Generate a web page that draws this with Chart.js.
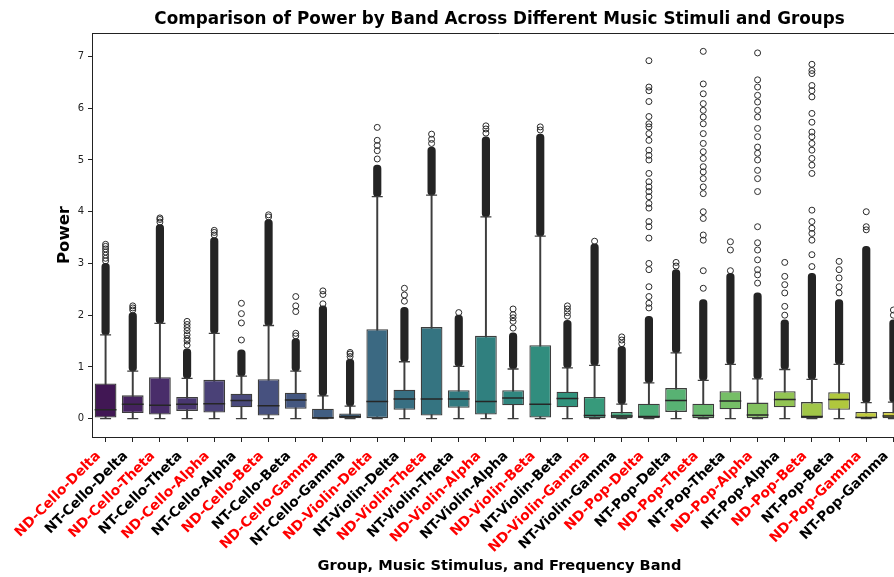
<!DOCTYPE html>
<html>
<head>
<meta charset="utf-8">
<script src="https://cdn.jsdelivr.net/npm/chart.js@4.4.1/dist/chart.umd.min.js"></script>
<style>
  html, body { margin: 0; padding: 0; overflow: hidden; background: #fff; }
  canvas { display: block; }
</style>
</head>
<body>
<canvas id="c_box" width="920" height="577"></canvas>
<script>
// categories: group-stimulus-band
const labels = [
  'ND-Cello-Delta', 'NT-Cello-Delta', 'ND-Cello-Theta', 'NT-Cello-Theta', 'ND-Cello-Alpha',
  'NT-Cello-Alpha', 'ND-Cello-Beta', 'NT-Cello-Beta', 'ND-Cello-Gamma', 'NT-Cello-Gamma',
  'ND-Violin-Delta', 'NT-Violin-Delta', 'ND-Violin-Theta', 'NT-Violin-Theta', 'ND-Violin-Alpha',
  'NT-Violin-Alpha', 'ND-Violin-Beta', 'NT-Violin-Beta', 'ND-Violin-Gamma', 'NT-Violin-Gamma',
  'ND-Pop-Delta', 'NT-Pop-Delta', 'ND-Pop-Theta', 'NT-Pop-Theta', 'ND-Pop-Alpha',
  'NT-Pop-Alpha', 'ND-Pop-Beta', 'NT-Pop-Beta', 'ND-Pop-Gamma', 'NT-Pop-Gamma'
];

// box statistics
const whiskLo = [0, 0, 0, 0, 0, 0, 0, 0, 0, 0, 0, 0, 0, 0, 0, 0, 0, 0, 0, 0, 0, 0, 0, 0, 0, 0, 0, 0, 0, 0];
const q1 = [0.02, 0.11, 0.08, 0.15, 0.12, 0.22, 0.06, 0.19, 0.005, 0.0,
            0.0, 0.17, 0.06, 0.21, 0.08, 0.26, 0.02, 0.22, 0.0, 0.0,
            0.0, 0.13, 0.0, 0.18, 0.0, 0.22, 0.0, 0.17, 0.0, 0.0];
const median = [0.17, 0.28, 0.26, 0.28, 0.29, 0.35, 0.25, 0.36, 0.01, 0.04,
                0.33, 0.38, 0.38, 0.38, 0.33, 0.40, 0.28, 0.39, 0.06, 0.05,
                0.04, 0.35, 0.06, 0.34, 0.07, 0.37, 0.04, 0.37, 0.02, 0.05];
const q3 = [0.68, 0.45, 0.80, 0.42, 0.75, 0.48, 0.76, 0.50, 0.19, 0.10,
            1.73, 0.56, 1.77, 0.55, 1.60, 0.55, 1.42, 0.52, 0.42, 0.13,
            0.29, 0.59, 0.29, 0.53, 0.31, 0.53, 0.32, 0.51, 0.13, 0.13];
const whiskHi = [1.62, 0.92, 1.84, 0.78, 1.65, 0.82, 1.80, 0.92, 0.44, 0.24,
                 4.29, 1.10, 4.32, 1.01, 3.90, 0.96, 3.53, 0.98, 1.03, 0.28,
                 0.69, 1.27, 0.74, 1.05, 0.77, 0.95, 0.76, 1.05, 0.31, 0.32];

// upper end of the solid run of overlapping outliers above each whisker
const denseTop = [3.0, 2.05, 3.75, 1.35, 3.5, 1.33, 3.85, 1.55, 2.18, 1.15,
                  4.9, 2.15, 5.25, 2.0, 5.45, 1.66, 5.5, 1.9, 3.38, 1.40,
                  1.98, 2.88, 2.3, 2.81, 2.43, 1.91, 2.81, 2.3, 3.33, 1.91];

// separate outlier circles
const outliers = [
  [3.05, 3.1, 3.16, 3.22, 3.28, 3.33, 3.37],
  [2.1, 2.14, 2.18],
  [3.8, 3.85, 3.88],
  [1.42, 1.5, 1.55, 1.62, 1.7, 1.76, 1.82, 1.88],
  [3.55, 3.6, 3.64],
  [1.52, 1.85, 2.03, 2.23],
  [3.9, 3.94],
  [1.6, 1.65, 2.07, 2.18, 2.36],
  [2.22, 2.4, 2.47],
  [1.2, 1.25, 1.28],
  [5.02, 5.18, 5.28, 5.38, 5.63],
  [2.27, 2.39, 2.52],
  [5.32, 5.4, 5.5],
  [2.05],
  [5.52, 5.6, 5.66],
  [1.75, 1.88, 1.95, 2.01, 2.12],
  [5.58, 5.64],
  [1.98, 2.05, 2.12, 2.18],
  [3.43],
  [1.45, 1.52, 1.58],
  [2.14, 2.23, 2.36, 2.55, 2.88, 3.0, 3.49, 3.71, 3.81, 4.07, 4.16, 4.29, 4.39, 4.48, 4.58, 4.74,
   5.0, 5.09, 5.19, 5.38, 5.51, 5.64, 5.7, 5.84, 6.13, 6.34, 6.41, 6.92],
  [2.95, 3.02],
  [2.52, 2.86, 3.45, 3.55, 3.87, 4.0, 4.35, 4.48, 4.64, 4.77, 4.87, 5.03, 5.16, 5.32, 5.51, 5.7,
   5.83, 5.96, 6.09, 6.28, 6.47, 7.1],
  [2.86, 3.26, 3.42],
  [2.62, 2.78, 2.88, 3.07, 3.26, 3.4, 3.71, 4.39, 4.64, 4.8, 5.0, 5.13, 5.25, 5.45, 5.61, 5.83,
   5.96, 6.12, 6.25, 6.41, 6.55, 7.07],
  [2.0, 2.17, 2.43, 2.59, 2.75, 3.02],
  [2.94, 3.17, 3.45, 3.58, 3.68, 3.81, 4.03, 4.74, 4.9, 5.03, 5.19, 5.32, 5.45, 5.54, 5.73, 5.9,
   6.22, 6.34, 6.44, 6.67, 6.73, 6.85],
  [2.43, 2.55, 2.72, 2.88, 3.04],
  [3.65, 3.71, 4.0],
  [2.0, 2.1]
];

const yTicks = [0, 1, 2, 3, 4, 5, 6, 7];

// viridis palette, 30 steps, desaturated like seaborn boxes
const viridisStops = ['#440154', '#482475', '#414487', '#355f8d', '#2a788e', '#21918c',
                      '#22a884', '#44bf70', '#7ad151', '#bddf26', '#fde725'];

function hexRgb(h) {
    return [1, 3, 5].map(i => parseInt(h.substr(i, 2), 16) / 255);
}

function viridis(t) {
    const p = t * 10;
    const i = Math.min(9, Math.floor(p));
    const f = p - i;
    const a = hexRgb(viridisStops[i]);
    const b = hexRgb(viridisStops[i + 1]);
    return a.map((v, k) => v + (b[k] - v) * f);
}

function hue2rgb(m1, m2, h) {
    h = ((h % 1) + 1) % 1;
    if (h < 1 / 6) return m1 + (m2 - m1) * h * 6;
    if (h < 0.5) return m2;
    if (h < 2 / 3) return m1 + (m2 - m1) * (2 / 3 - h) * 6;
    return m1;
}

function desaturate(rgb, prop) {
    const [r, g, b] = rgb;
    const mx = Math.max(r, g, b), mn = Math.min(r, g, b);
    const l = (mx + mn) / 2;
    if (mx === mn) return rgb;
    let s = l <= 0.5 ? (mx - mn) / (mx + mn) : (mx - mn) / (2 - mx - mn);
    const rc = (mx - r) / (mx - mn), gc = (mx - g) / (mx - mn), bc = (mx - b) / (mx - mn);
    let h;
    if (r === mx) h = bc - gc;
    else if (g === mx) h = 2 + rc - bc;
    else h = 4 + gc - rc;
    h = ((h / 6) % 1 + 1) % 1;
    s *= prop;
    const m2 = l <= 0.5 ? l * (1 + s) : l + s - l * s;
    const m1 = 2 * l - m2;
    return [hue2rgb(m1, m2, h + 1 / 3), hue2rgb(m1, m2, h), hue2rgb(m1, m2, h - 1 / 3)];
}

function css(rgb) {
    return 'rgb(' + rgb.map(v => Math.round(v * 255)).join(',') + ')';
}

const boxColors = labels.map((_, i) => css(desaturate(viridis((i + 1) / (labels.length + 1)), 0.75)));

const lineColor = '#3d3d3d';
const fontFamily = "'DejaVu Sans', sans-serif";

const outlierPoints = [];
outliers.forEach((list, i) => list.forEach(v => outlierPoints.push({ x: labels[i], y: v })));

const capPoints = [];
labels.forEach((lab, i) => {
    capPoints.push({ x: lab, y: whiskLo[i] });
    capPoints.push({ x: lab, y: whiskHi[i] });
});

// plot title centred over the axes, top and right spines
const framePlugin = {
    id: 'frame',
    afterDraw(chart) {
        const { ctx, chartArea } = chart;
        ctx.save();
        ctx.strokeStyle = '#222';
        ctx.lineWidth = 1;
        ctx.beginPath();
        ctx.moveTo(chartArea.left, chartArea.top + 0.5);
        ctx.lineTo(chartArea.right, chartArea.top + 0.5);
        ctx.lineTo(chartArea.right, chartArea.bottom);
        ctx.stroke();
        ctx.fillStyle = '#000';
        ctx.font = "bold 16.8px " + fontFamily;
        ctx.textAlign = 'center';
        ctx.textBaseline = 'middle';
        ctx.fillText('Comparison of Power by Band Across Different Music Stimuli and Groups',
            (chartArea.left + chartArea.right) / 2, 20);
        ctx.restore();
    }
};

const box_data = {
    type: 'bar',
    data: {
        labels: labels,
        datasets: [
            {
                type: 'bar',
                label: 'whiskers',
                data: labels.map((_, i) => [whiskLo[i], whiskHi[i]]),
                backgroundColor: lineColor,
                barThickness: 1.3,
                grouped: false,
                order: 6
            },
            {
                type: 'bar',
                label: 'dense outliers',
                data: labels.map((_, i) => [whiskHi[i], denseTop[i]]),
                backgroundColor: '#242424',
                barThickness: 7.5,
                borderRadius: 3.7,
                borderSkipped: false,
                grouped: false,
                order: 5
            },
            {
                type: 'scatter',
                label: 'caps',
                data: capPoints,
                pointStyle: 'line',
                radius: 5.5,
                borderColor: lineColor,
                borderWidth: 1.3,
                order: 4
            },
            {
                type: 'scatter',
                label: 'outliers',
                data: outlierPoints,
                pointStyle: 'circle',
                radius: 3,
                backgroundColor: 'rgba(0,0,0,0)',
                borderColor: '#2a2a2a',
                borderWidth: 1,
                order: 3
            },
            {
                type: 'bar',
                label: 'boxes',
                data: labels.map((_, i) => [q1[i], q3[i]]),
                backgroundColor: boxColors,
                borderColor: lineColor,
                borderWidth: 1.3,
                borderSkipped: false,
                barPercentage: 0.8,
                categoryPercentage: 1.0,
                grouped: false,
                order: 2
            },
            {
                type: 'scatter',
                label: 'medians',
                data: labels.map((lab, i) => ({ x: lab, y: median[i] })),
                pointStyle: 'line',
                radius: 10.9,
                borderColor: '#262626',
                borderWidth: 1.5,
                order: 1
            }
        ]
    },
    options: {
        responsive: false,
        animation: false,
        layout: {
            padding: { top: 33, left: 0, right: 13, bottom: 0 }
        },
        plugins: {
            legend: { display: false },
            tooltip: { enabled: false },
            title: { display: false }
        },
        scales: {
            x: {
                type: 'category',
                offset: true,
                grid: {
                    display: true,
                    offset: false,
                    drawOnChartArea: false,
                    drawTicks: true,
                    tickLength: 5,
                    color: '#222'
                },
                border: { display: true, color: '#222', width: 1 },
                ticks: {
                    autoSkip: false,
                    minRotation: 45,
                    maxRotation: 45,
                    padding: 6,
                    labelOffset: -7,
                    font: { family: fontFamily, size: 13.8, weight: 'bold' },
                    color: (ctx) => labels[ctx.index] && labels[ctx.index].startsWith('ND') ? '#ff0000' : '#000000'
                },
                title: {
                    display: true,
                    text: 'Group, Music Stimulus, and Frequency Band',
                    color: '#000',
                    font: { family: fontFamily, size: 14.6, weight: 'bold' },
                    padding: { top: 0, bottom: 2 }
                },
                afterFit: (scale) => {
                    scale.height = 140;
                }
            },
            y: {
                min: -0.355,
                max: 7.455,
                grid: {
                    display: true,
                    drawOnChartArea: false,
                    drawTicks: true,
                    tickLength: 4,
                    color: '#222'
                },
                border: { display: true, color: '#222', width: 1 },
                ticks: {
                    padding: 4,
                    font: { family: fontFamily, size: 10 },
                    color: '#222'
                },
                afterBuildTicks: (scale) => {
                    scale.ticks = yTicks.map(v => ({ value: v }));
                },
                title: {
                    display: true,
                    text: 'Power',
                    color: '#000',
                    font: { family: fontFamily, size: 16.5, weight: 'bold' },
                    padding: { top: 55, bottom: 0 }
                },
                afterFit: (scale) => {
                    scale.width = 92;
                }
            }
        }
    },
    plugins: [framePlugin]
};

const c_box = document.getElementById('c_box');
var chart_box = new Chart(c_box, box_data);
</script>
</body>
</html>
